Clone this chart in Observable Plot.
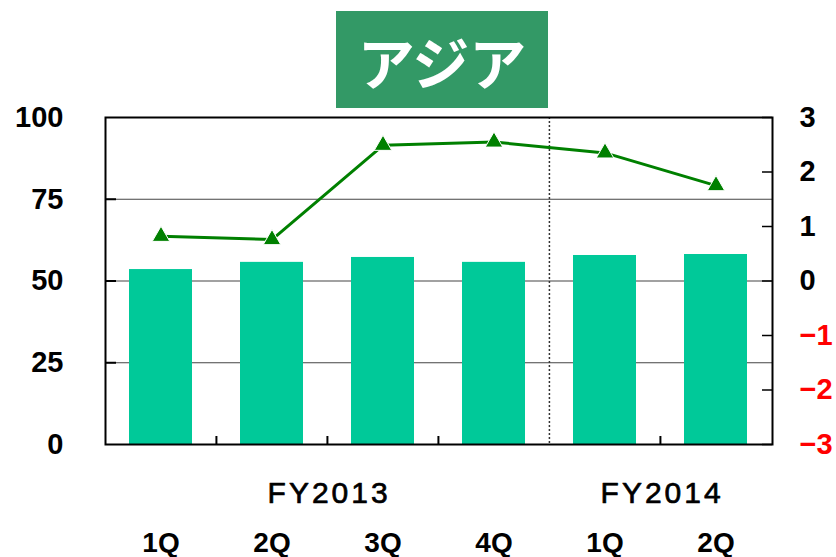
<!DOCTYPE html>
<html><head><meta charset="utf-8">
<script src="https://cdn.jsdelivr.net/npm/d3@7"></script>
<script src="https://cdn.jsdelivr.net/npm/@observablehq/plot@0.6"></script>
<style>
body{margin:0;background:#fff}
#wrap{position:relative;width:836px;height:557px}
#title{position:absolute;left:336px;top:11px;width:212px;height:97px;background:#339966;color:#fff;font-family:"Noto Sans CJK JP";font-weight:bold;font-size:57px;display:flex;align-items:center;justify-content:center;z-index:2}
#chart{position:absolute;left:0;top:0}
</style></head>
<body>
<div id="wrap"><div id="title">アジア</div><div id="chart"></div></div>
<script>
const titleText = "アジア";
const quarters = ["1Q","2Q","3Q","4Q","1Q","2Q"];
const fiscalYears = ["FY2013","FY2014"];
const fiscalYearAfter = [1, 4];
const barValues = [53.5, 55.7, 57.2, 55.7, 57.8, 58.1];
const lineValues = [0.82, 0.76, 2.49, 2.55, 2.35, 1.75];
const leftTicks = [0, 25, 50, 75, 100];
const rightTicks = [-3, -2, -1, 0, 1, 2, 3];
const gridValues = [25, 50, 75];

document.getElementById("title").textContent = titleText;

const W = 836, H = 557, ml = 105, mr = 64, mt = 117, mb = 113;
const step = (W - ml - mr) / 6;
const pw = W - ml - mr, ph = H - mt - mb;
const toLeft = v => (v + 3) / 6 * 100;
const idx = quarters.map((_, i) => i);
const fam = "Liberation Sans, Arial, sans-serif";
const font = {fontFamily: fam, fontWeight: "bold"};

const chart = Plot.plot({
  width: W, height: H,
  marginLeft: ml, marginRight: mr, marginTop: mt, marginBottom: mb,
  style: {background: "transparent", color: "black"},
  x: {type: "band", domain: idx, paddingInner: 0.43, paddingOuter: 0.215, axis: null},
  y: {domain: [0, 100], axis: null},
  color: {type: "identity"},
  marks: [
    Plot.gridY(gridValues, {stroke: "#444", strokeOpacity: 1, strokeWidth: 1.2}),
    Plot.barY(idx, {x: i => i, y: i => barValues[i], fill: "#00C999"}),
    Plot.ruleX([4], {x: d => d, dx: -step / 2, stroke: "#333", strokeWidth: 1.5, strokeDasharray: "2,2"}),
    Plot.tickX([1, 2, 3, 5], {x: d => d, dx: -step / 2, insetTop: ph - 8, stroke: "black", strokeWidth: 2}),
    Plot.tickY(gridValues, {y: d => d, insetRight: pw - 11, stroke: "black", strokeWidth: 2}),
    Plot.tickY(rightTicks, {y: d => toLeft(d), insetLeft: pw - 10, stroke: "black", strokeWidth: 1.5}),
    Plot.line(idx, {x: i => i, y: i => toLeft(lineValues[i]), stroke: "#008000", strokeWidth: 3}),
    Plot.dot(idx, {x: i => i, y: i => toLeft(lineValues[i]), symbol: "triangle", r: 6.5, fill: "#008000", stroke: "white", strokeWidth: 1}),
    Plot.frame({stroke: "black", strokeWidth: 2}),
    Plot.text(leftTicks, {y: d => d, text: d => String(d), frameAnchor: "left", dx: -42, textAnchor: "end", fontSize: 29, ...font}),
    Plot.text(rightTicks, {y: d => toLeft(d), text: d => d < 0 ? "\u2212" + Math.abs(d) : String(d), frameAnchor: "right", dx: 27, textAnchor: "start", fill: d => d < 0 ? "red" : "black", fontSize: 29, ...font}),
    Plot.text(fiscalYears, {x: (d, i) => fiscalYearAfter[i], dx: step / 2, text: d => d, frameAnchor: "bottom", lineAnchor: "middle", dy: 49, fontSize: 30, fontFamily: fam, fontWeight: "normal", fill: "black", stroke: "black", strokeWidth: 0.7}),
    Plot.text(idx, {x: i => i, text: i => quarters[i], frameAnchor: "bottom", lineAnchor: "middle", dy: 99, fontSize: 28, ...font})
  ]
});
d3.select(chart).selectAll("text").filter(function() { return fiscalYears.includes(this.textContent); })
  .attr("letter-spacing", "3px").attr("dx", "1.5px");
document.getElementById("chart").appendChild(chart);
</script>
</body></html>
